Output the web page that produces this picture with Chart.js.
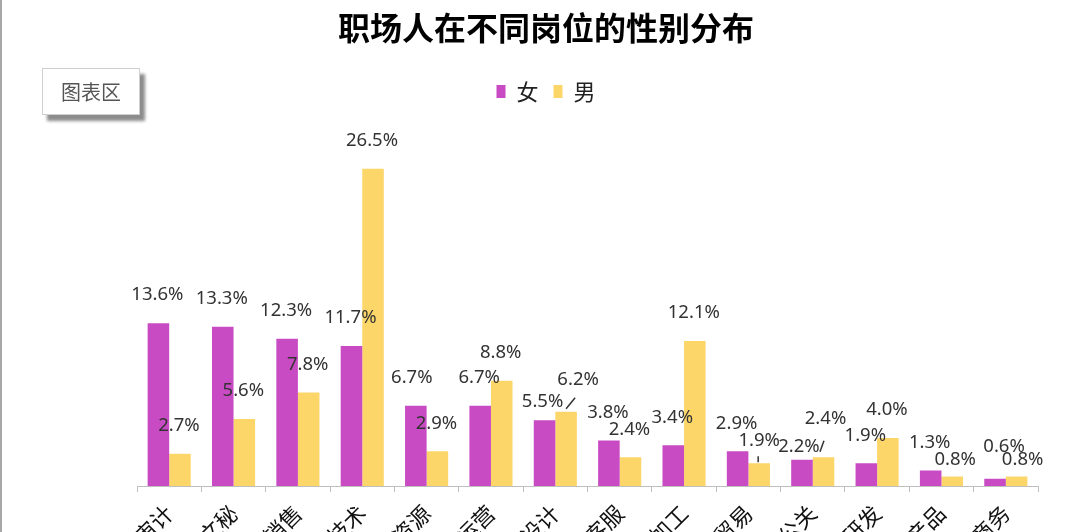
<!DOCTYPE html>
<html><head><meta charset="utf-8">
<script src="https://cdn.jsdelivr.net/npm/chart.js@4.4.0/dist/chart.umd.min.js"></script>
<style>
html,body{margin:0;padding:0;background:#fff;overflow:hidden;}
#wrap{position:relative;width:1080px;height:620px;}
#edge{position:absolute;left:0;top:0;width:2px;height:620px;background:#a8a8a8;}
#tip{position:absolute;left:42px;top:68px;width:96px;height:45px;border:1px solid #cfcfcf;background:#fff;box-shadow:5px 6px 3px rgba(0,0,0,0.45);font:20px "Noto Sans CJK SC";color:#555;display:flex;align-items:center;justify-content:center;}
</style></head>
<body><div id="wrap"><canvas id="c" width="1080" height="620"></canvas><div id="edge"></div><div id="tip">图表区</div></div>
<script>
const chartTitle = '职场人在不同岗位的性别分布';
const categories = ['财务审计','行政文秘','市场销售','IT技术','人力资源','运营','设计','客服','生产加工','国际贸易','公关','研发','产品','商务'];
const seriesNames = ['女','男'];
const femaleShare = [13.6, 13.3, 12.3, 11.7, 6.7, 6.7, 5.5, 3.8, 3.4, 2.9, 2.2, 1.9, 1.3, 0.6];
const maleShare   = [2.7, 5.6, 7.8, 26.5, 2.9, 8.8, 6.2, 2.4, 12.1, 1.9, 2.4, 4.0, 0.8, 0.8];

// label placement nudges (dx, dy from bar top), per dataset index -> category index
const labelNudge = {
  0: {4:[-4,-28], 6:[-2,-18], 10:[-3,-13], 13:[9,-32]},
  1: {6:[12,-32], 9:[0,-23], 10:[2,-39], 12:[3,-17], 13:[6,-17]}
};
const leaders = [
  {ds:1, i:6, from:[0,-3], to:[9,-14]},
  {ds:1, i:9, from:[-1,-7], to:[-1,-1]},
  {ds:0, i:10, from:[18,-8], to:[22,-19]}
];

const barLabels = {
  id: 'barLabels',
  afterDatasetsDraw(chart) {
    const ctx = chart.ctx;
    ctx.save();
    ctx.font = '18.5px "Noto Sans"';
    ctx.fillStyle = '#333';
    ctx.textAlign = 'center';
    ctx.textBaseline = 'middle';
    chart.data.datasets.forEach((ds, d) => {
      chart.getDatasetMeta(d).data.forEach((bar, i) => {
        const n = (labelNudge[d] || {})[i] || [-1, -28];
        ctx.fillText(ds.data[i].toFixed(1) + '%', bar.x + n[0], bar.y + n[1]);
      });
    });
    ctx.strokeStyle = '#333';
    ctx.lineWidth = 1.5;
    leaders.forEach(l => {
      const bar = chart.getDatasetMeta(l.ds).data[l.i];
      ctx.beginPath();
      ctx.moveTo(bar.x + l.from[0], bar.y + l.from[1]);
      ctx.lineTo(bar.x + l.to[0], bar.y + l.to[1]);
      ctx.stroke();
    });
    ctx.restore();
  }
};

new Chart(document.getElementById('c'), {
  type: 'bar',
  data: {
    labels: categories,
    datasets: [
      {label: seriesNames[0], data: femaleShare, backgroundColor: '#C84BC3', borderWidth: 0, barPercentage: 1, categoryPercentage: 0.67},
      {label: seriesNames[1], data: maleShare, backgroundColor: '#FDD66A', borderWidth: 0, barPercentage: 1, categoryPercentage: 0.67}
    ]
  },
  options: {
    responsive: false,
    animation: false,
    layout: {padding: {left: 54, right: 42, top: 0, bottom: 0}},
    plugins: {
      tooltip: {enabled: false},
      title: {display: true, text: chartTitle, color: '#000',
        font: {family: '"Noto Sans CJK SC"', size: 32, weight: 'bold'},
        padding: {top: 9, bottom: 18}},
      legend: {display: true, position: 'top',
        labels: {boxWidth: 9, boxHeight: 13, padding: 15, color: '#222',
          font: {family: '"Noto Sans CJK SC"', size: 22}}}
    },
    scales: {
      x: {
        offset: true,
        grid: {offset: true, drawOnChartArea: false, drawTicks: true, tickLength: 6, color: '#bfbfbf'},
        border: {display: true, color: '#bfbfbf', width: 1},
        ticks: {minRotation: 45, maxRotation: 45, autoSkip: false, padding: 8, color: '#111',
          font: {family: '"Noto Sans CJK SC"', size: 22}},
        afterFit(scale) { scale.height = 134; }
      },
      y: {
        display: true, min: 0, max: 31.2,
        grid: {display: false}, border: {display: false}, ticks: {display: false},
        afterFit(scale) { scale.width = 83; }
      }
    }
  },
  plugins: [barLabels]
});
</script>
</body></html>
